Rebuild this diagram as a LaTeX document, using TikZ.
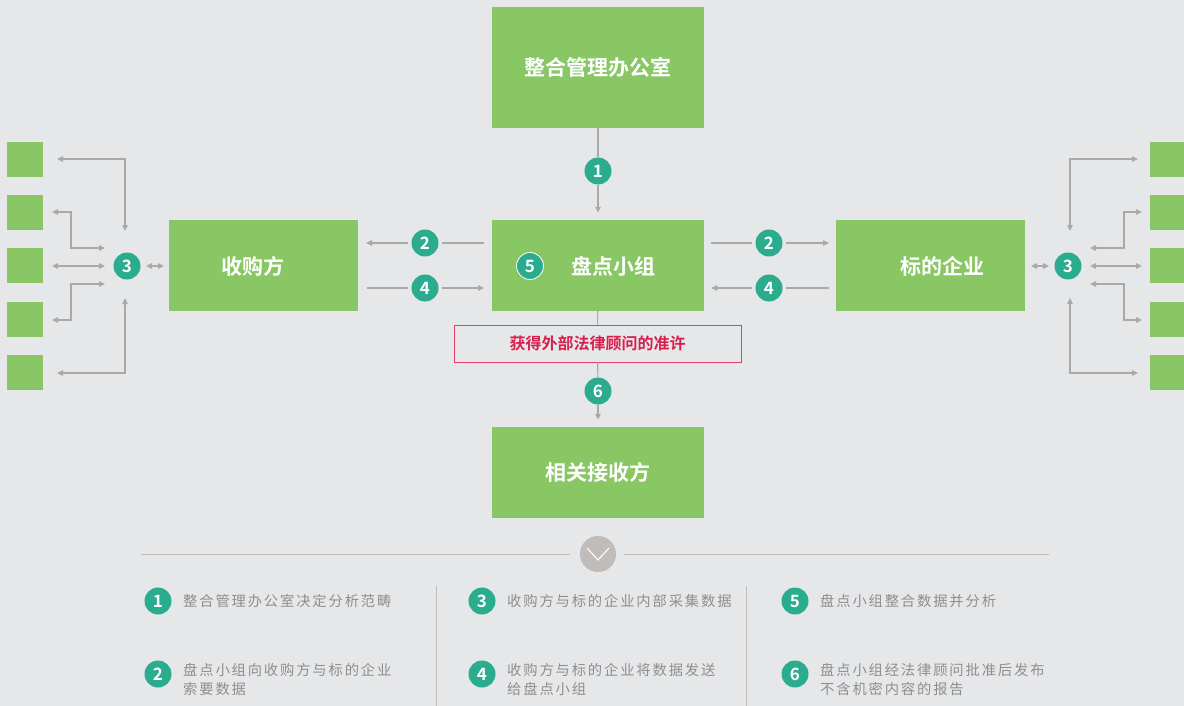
\documentclass[tikz,border=0pt]{standalone}
\usepackage{fontspec}
\setmainfont{Noto Sans CJK SC}[BoldFont={Noto Sans CJK SC Bold}]
\newfontfamily\legendfont{Noto Sans CJK SC}[LetterSpace=13]
\usetikzlibrary{arrows.meta}
\definecolor{bg}{HTML}{E6E7E9}
\definecolor{gr}{HTML}{88C764}
\definecolor{tl}{HTML}{2BAC8F}
\definecolor{ln}{HTML}{A9A9A9}
\definecolor{lg}{HTML}{8E8E8E}
\definecolor{rd}{HTML}{D81E4D}
\definecolor{chv}{HTML}{BFBCBA}
\definecolor{sepc}{HTML}{BDBDBD}
\tikzset{
  gbox/.style={fill=gr, draw=none, text=white, font=\bfseries\fontsize{21}{24}\selectfont, inner sep=0},
  sq/.style={fill=gr, draw=none, minimum width=36pt, minimum height=35pt, inner sep=0},
  num/.style={circle, fill=tl, minimum size=27pt, inner sep=0, text=white, font=\bfseries\fontsize{17}{17}\selectfont},
  conn/.style={draw=ln, line width=1.1pt},
  arr/.style={conn, -{Triangle[length=6pt,width=5.5pt]}},
  darr/.style={conn, {Triangle[length=6pt,width=5.5pt]}-{Triangle[length=6pt,width=5.5pt]}},
  leg/.style={text=lg, font=\legendfont\fontsize{14.3}{19}\selectfont, anchor=west, align=left, inner sep=0},
}
\begin{document}
\begin{tikzpicture}[x=1pt,y=-1pt]
\fill[bg] (0,0) rectangle (1184,706);
\useasboundingbox (0,0) rectangle (1184,706);

% main boxes
\node[gbox, minimum width=212pt, minimum height=121pt] (office) at (598,67.5) {整合管理办公室};
\node[gbox, minimum width=212pt, minimum height=91pt] (team) at (598,265.5) {};
\node[gbox] (teamlbl) at (613,266) {盘点小组};
\node[gbox, minimum width=189pt, minimum height=91pt] (buyer) at (263.5,265.5) {};
\node[gbox] (buyerlbl) at (253,266) {收购方};
\node[gbox, minimum width=189pt, minimum height=91pt] (target) at (930.5,265.5) {};
\node[gbox] (targetlbl) at (942,266) {标的企业};
\node[gbox, minimum width=212pt, minimum height=91pt] (recv) at (598,472.5) {相关接收方};
\node[draw=rd!85, line width=0.8pt, minimum width=287pt, minimum height=37pt, inner sep=0,
      text=rd, font=\bfseries\fontsize{16}{18}\selectfont] (legal) at (597.5,343.5) {获得外部法律顾问的准许};

% numbers
\node[num] (c1) at (598,171) {1};
\node[num, draw=white, line width=0.8pt] (c5) at (530,266) {5};
\node[num] (c6) at (598,391) {6};
\node[num] (c2l) at (425,243) {2};
\node[num] (c4l) at (425,288) {4};
\node[num] (c2r) at (769,243) {2};
\node[num] (c4r) at (769,288) {4};
\node[num] (c3l) at (127,266) {3};
\node[num] (c3r) at (1068,266) {3};

% vertical flow
\draw[conn] (office) -- (c1);
\draw[arr, shorten >=7pt] (c1) -- (team);
\draw[conn] (team) -- (legal);
\draw[conn] (legal) -- (c6);
\draw[arr, shorten >=7pt] (c6) -- (recv);

% horizontal flows
\coordinate (t2l) at (484,243); \coordinate (b2l) at (366,243);
\coordinate (t4l) at (484,288); \coordinate (b4l) at (367,288);
\coordinate (t2r) at (711,243); \coordinate (b2r) at (829,243);
\coordinate (t4r) at (711,288); \coordinate (b4r) at (829,288);
\draw[conn, shorten >=3pt] (t2l) -- (c2l);
\draw[arr, shorten <=3pt] (c2l) -- (b2l);
\draw[conn, shorten >=3pt] (b4l) -- (c4l);
\draw[arr, shorten <=3pt] (c4l) -- (t4l);
\draw[conn, shorten >=3pt] (t2r) -- (c2r);
\draw[arr, shorten <=3pt] (c2r) -- (b2r);
\draw[conn, shorten >=3pt] (b4r) -- (c4r);
\draw[arr, shorten <=3pt] (c4r) -- (t4r);

% side squares
\foreach \i/\y in {1/159.5,2/212.5,3/265.5,4/319.5,5/372.5}{
  \node[sq] (L\i) at (25,\y) {};
  \node[sq] (R\i) at (1168,\y) {};
}

% left side connectors
\coordinate (la1) at (57,159); \coordinate (la1b) at (125,231);
\coordinate (la2) at (52,212); \coordinate (la2b) at (105,248);
\coordinate (la3) at (52,266); \coordinate (la3b) at (105,266);
\coordinate (la4) at (52,320); \coordinate (la4b) at (105,284);
\coordinate (la5) at (57,373); \coordinate (la5b) at (125,298);
\coordinate (lb1) at (146,266); \coordinate (lb2) at (164,266);
\draw[darr] (la1) -| (la1b);
\draw[darr] (la2) -- (71,212) -- (71,248) -- (la2b);
\draw[darr] (la3) -- (la3b);
\draw[darr] (la4) -- (71,320) -- (71,284) -- (la4b);
\draw[darr] (la5) -| (la5b);
\draw[darr] (lb1) -- (lb2);

% right side connectors
\coordinate (ra1) at (1138,159); \coordinate (ra1b) at (1070,231);
\coordinate (ra2) at (1142,212); \coordinate (ra2b) at (1090,248);
\coordinate (ra3) at (1142,266); \coordinate (ra3b) at (1090,266);
\coordinate (ra4) at (1142,320); \coordinate (ra4b) at (1090,284);
\coordinate (ra5) at (1138,373); \coordinate (ra5b) at (1070,298);
\coordinate (rb1) at (1049,266); \coordinate (rb2) at (1031,266);
\draw[darr] (ra1) -| (ra1b);
\draw[darr] (ra2) -- (1124,212) -- (1124,248) -- (ra2b);
\draw[darr] (ra3) -- (ra3b);
\draw[darr] (ra4) -- (1124,320) -- (1124,284) -- (ra4b);
\draw[darr] (ra5) -| (ra5b);
\draw[darr] (rb1) -- (rb2);

% separator
\node[circle, fill=chv, minimum size=36pt, inner sep=0] (chev) at (598,554) {};
\draw[sepc, line width=1pt] (141,554) -- (570,554);
\draw[sepc, line width=1pt] (624,554) -- (1049,554);
\draw[white, line width=1.1pt] (587,548) -- (598,560) -- (609,548);
\draw[sepc, line width=1pt] (436,586) -- (436,706);
\draw[sepc, line width=1pt] (746,586) -- (746,706);

% legend
\node[num] (k1) at (158,601) {1};
\node[num] (k2) at (158,674) {2};
\node[num] (k3) at (482,601) {3};
\node[num] (k4) at (482,674) {4};
\node[num] (k5) at (795,601) {5};
\node[num] (k6) at (795,674) {6};
\node[leg] (t1) at (183,601) {整合管理办公室决定分析范畴};
\node[leg, anchor=north west] (t2) at (183,663) {盘点小组向收购方与标的企业\\索要数据};
\node[leg] (t3) at (507,601) {收购方与标的企业内部采集数据};
\node[leg, anchor=north west] (t4) at (507,663) {收购方与标的企业将数据发送\\给盘点小组};
\node[leg] (t5) at (820,601) {盘点小组整合数据并分析};
\node[leg, anchor=north west] (t6) at (820,663) {盘点小组经法律顾问批准后发布\\不含机密内容的报告};
\end{tikzpicture}
\end{document}
